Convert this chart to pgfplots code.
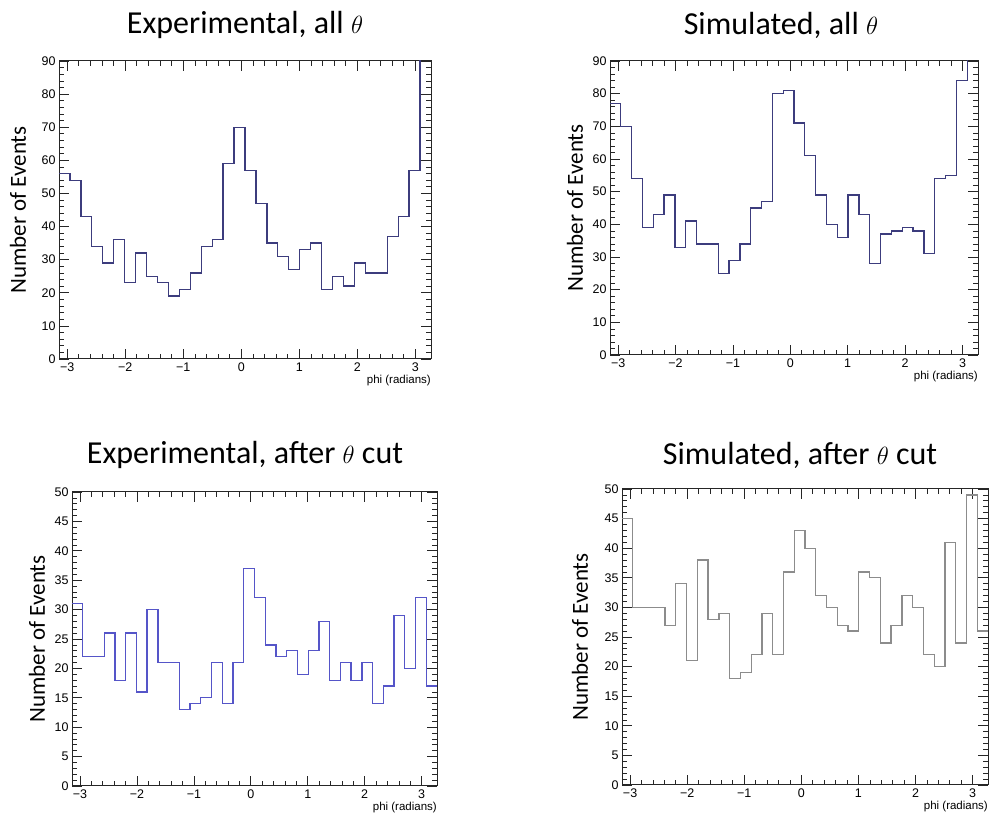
\documentclass[border=0pt]{standalone}
\usepackage{fontspec}
\usepackage{pgfplots}
\usepackage{pgfplotstable}
\pgfplotsset{compat=1.18}
\setmainfont{Carlito}
\newfontfamily\rootfont{Liberation Sans}
\definecolor{navy}{RGB}{60,60,125}
\definecolor{midblue}{RGB}{85,85,200}
\definecolor{greyline}{RGB}{140,140,140}

% bin left edges (34 bins from -pi to 3.27), last row closes the final bin
\pgfplotstableread{
x a b c d
-3.1416 56 77 31 45
-2.9530 54 70 22 30
-2.7644 43 54 22 30
-2.5759 34 39 26 30
-2.3873 29 43 18 27
-2.1987 36 49 26 34
-2.0101 23 33 16 21
-1.8216 32 41 30 38
-1.6330 25 34 21 28
-1.4444 23 34 21 29
-1.2558 19 25 13 18
-1.0673 21 29 14 19
-0.8787 26 34 15 22
-0.6901 34 45 21 29
-0.5015 36 47 14 22
-0.3130 59 80 21 36
-0.1244 70 81 37 43
0.0642 57 71 32 40
0.2528 47 61 24 32
0.4413 35 49 22 30
0.6299 31 40 23 27
0.8185 27 36 19 26
1.0071 33 49 23 36
1.1956 35 43 28 35
1.3842 21 28 18 24
1.5728 25 37 21 27
1.7614 22 38 18 32
1.9499 29 39 21 30
2.1385 26 38 14 22
2.3271 26 31 17 20
2.5157 37 54 29 41
2.7042 43 55 20 24
2.8928 57 84 32 49
3.0814 100 100 17 26
3.2700 100 100 17 26
}\histdata

\pgfplotsset{
 rootaxis/.style={
   scale only axis, anchor=south west,
   xmin=-3.1416, xmax=3.27, ymin=0,
   xtick={-3,-2,-1,0,1,2,3},
   xticklabels={−3,−2,−1,0,1,2,3},
   minor x tick num=4, minor y tick num=4,
   tick align=inside,
   major tick length=10pt, minor tick length=5pt,
   axis line style={black!85, line width=1pt},
   every tick/.style={black!85, line width=0.7pt},
   tick label style={font=\rootfont\fontsize{12.5}{14}\selectfont},
   /pgf/number format/assume math mode=true,
   xlabel={phi (radians)},
   every axis x label/.style={at={(axis description cs:1,0)}, anchor=north east, yshift=-16pt, inner sep=0pt, font=\rootfont\fontsize{11.5}{13}\selectfont},
   ylabel={Number of Events},
   every axis y label/.style={rotate=90, anchor=center, font=\fontsize{23}{27}\selectfont},
 }
}

\begin{document}
\begin{tikzpicture}
\useasboundingbox (0pt,0pt) rectangle (990pt,813pt);

\node[font=\fontsize{32}{38}\selectfont] at (245pt,788pt) {Experimental, all $\theta$};
\node[font=\fontsize{32}{38}\selectfont] at (781pt,788pt) {Simulated, all $\theta$};
\node[font=\fontsize{32}{38}\selectfont] at (245pt,358pt) {Experimental, after $\theta$ cut};
\node[font=\fontsize{32}{38}\selectfont] at (800pt,358pt) {Simulated, after $\theta$ cut};

\begin{axis}[rootaxis, at={(59pt,454pt)}, width=372pt, height=298pt,
  ymax=90, ytick distance=10,
  ylabel style={at={(axis description cs:-0.110,0.5)}}]
\addplot[const plot, navy, line width=1.3pt] table[x=x,y=a]{\histdata};
\end{axis}

\begin{axis}[rootaxis, at={(610pt,458pt)}, width=368pt, height=294pt,
  ymax=90, ytick distance=10,
  ylabel style={at={(axis description cs:-0.095,0.5)}}]
\addplot[const plot, navy, line width=1.3pt] table[x=x,y=b]{\histdata};
\end{axis}

\begin{axis}[rootaxis, at={(72pt,27pt)}, width=365pt, height=294pt,
  ymax=50, ytick distance=5,
  ylabel style={at={(axis description cs:-0.096,0.5)}}]
\addplot[const plot, midblue, line width=1.3pt] table[x=x,y=c]{\histdata};
\end{axis}

\begin{axis}[rootaxis, at={(622pt,28pt)}, width=366pt, height=296pt,
  ymax=50, ytick distance=5,
  ylabel style={at={(axis description cs:-0.115,0.5)}}]
\addplot[const plot, greyline, line width=1.3pt] table[x=x,y=d]{\histdata};
\end{axis}
\end{tikzpicture}
\end{document}
